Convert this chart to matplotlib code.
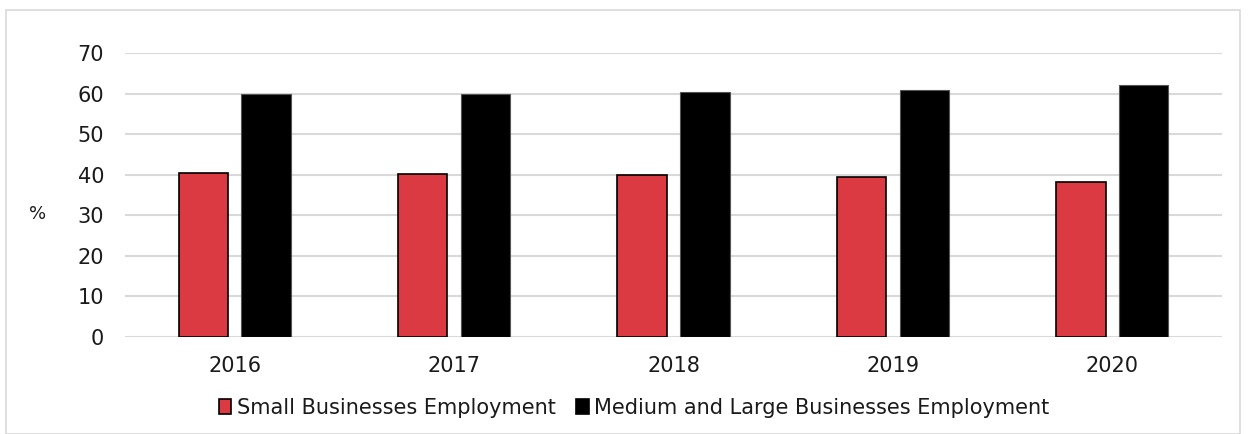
import matplotlib
matplotlib.use("Agg")
import matplotlib.pyplot as plt
import numpy as np
from matplotlib.patches import Rectangle

years = ["2016", "2017", "2018", "2019", "2020"]
small_emp = [40.4, 40.2, 39.9, 39.4, 38.1]
medium_large_emp = [59.8, 60.0, 60.4, 60.9, 62.1]
series_names = ["Small Businesses Employment", "Medium and Large Businesses Employment"]
y_ticks = [0, 10, 20, 30, 40, 50, 60, 70]

plt.rcParams["font.family"] = ["DejaVu Sans"]

fig = plt.figure(figsize=(12.48, 4.34), dpi=100)
ax = fig.add_axes([125 / 1248, 1 - 337 / 434, 1097 / 1248, 284 / 434])

x = np.arange(len(years))
w = 0.225
off = 0.143
ax.bar(x - off, small_emp, width=w, color="#DC3A42", edgecolor="black",
       linewidth=1.2, label=series_names[0], zorder=3)
ax.bar(x + off, medium_large_emp, width=w, color="black", edgecolor="#555555",
       linewidth=0.8, label=series_names[1], zorder=3)

ax.set_xlim(-0.5, len(years) - 0.5)
ax.set_ylim(0, 70)
ax.set_yticks(y_ticks)
ax.set_xticks(x)
ax.set_xticklabels(years)
ax.grid(axis="y", color="#d9d9d9", linewidth=1.5, zorder=0)
ax.set_axisbelow(True)
for s in ax.spines.values():
    s.set_visible(False)
ax.tick_params(axis="both", length=0, labelsize=15, colors="#1a1a1a")
ax.tick_params(axis="y", pad=15)
ax.tick_params(axis="x", pad=14)

fig.text(38 / 1248, 1 - 214 / 434, "%", fontsize=13, ha="center", va="center",
         color="#1a1a1a")

leg = ax.legend(loc="center", bbox_to_anchor=(0.5 - 0.036, -0.25), ncol=2,
                frameon=False, fontsize=15, handlelength=0.6, handleheight=0.75,
                handletextpad=0.25, columnspacing=1.0, borderaxespad=0)
for h in leg.legend_handles:
    h.set_edgecolor("black")
    h.set_linewidth(1.2)
for t in leg.get_texts():
    t.set_color("#1a1a1a")

# outer frame of the chart area
fig.patches.append(Rectangle((6 / 1248, 0), 1234 / 1248, 1 - 10 / 434,
                             transform=fig.transFigure, fill=False,
                             edgecolor="#d9d9d9", linewidth=1.2))

fig.savefig("out.png", dpi=100, facecolor="white")
